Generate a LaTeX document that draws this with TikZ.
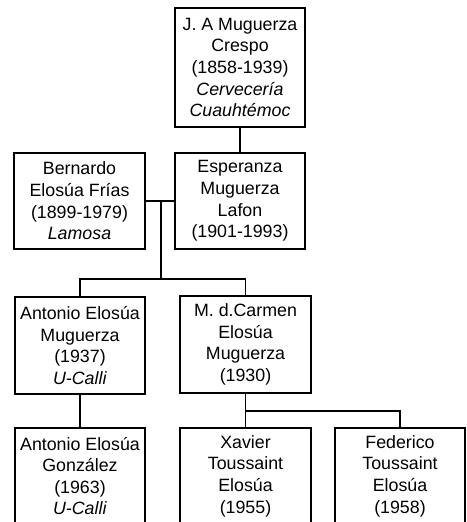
\documentclass[tikz,border=0pt]{standalone}
\usepackage{fontspec}
\setmainfont{Liberation Sans}
\begin{document}
\begin{tikzpicture}[x=1pt,y=-1pt,
  person/.style={draw=black, line width=1.6pt, fill=white, inner sep=0pt,
    align=center, font=\fontsize{17.8}{21.6}\selectfont},
  link/.style={line width=1.6pt}]
\useasboundingbox (0,0) rectangle (466,522);
\node[person, minimum width=130pt, minimum height=119pt] (top) at (240,67.5)
  {J. A Muguerza\\Crespo\\(1858-1939)\\\textit{Cervecería}\\\textit{Cuauhtémoc}};
\node[person, minimum width=131pt, minimum height=96pt] (bern) at (79.5,201)
  {Bernardo\\Elosúa Frías\\(1899-1979)\\\textit{Lamosa}};
\node[person, minimum width=130pt, minimum height=96pt] (esp) at (240,201)
  {Esperanza\\Muguerza\\Lafon\\(1901-1993)};
\node[person, minimum width=130pt, minimum height=97pt] (ant) at (80,345.5)
  {Antonio Elosúa\\Muguerza\\(1937)\\\textit{U-Calli}};
\node[person, minimum width=131pt, minimum height=97pt] (carm) at (245.5,344.5)
  {M. d.Carmen\\Elosúa\\Muguerza\\(1930)};
\node[person, minimum width=130pt, minimum height=96pt] (antg) at (80,476)
  {Antonio Elosúa\\González\\(1963)\\\textit{U-Calli}};
\node[person, minimum width=131pt, minimum height=96pt] (xav) at (245.5,476)
  {Xavier\\Toussaint\\Elosúa\\(1955)};
\node[person, minimum width=130pt, minimum height=96pt] (fed) at (400,476)
  {Federico\\Toussaint\\Elosúa\\(1958)};
\coordinate (m1) at (161,201);
\coordinate (j1) at (161,279);
\coordinate (j2) at (245.5,411);
\draw[link] (top.south) -- (esp.north);
\draw[link] (bern.east) -- (esp.west);
\draw[link] (m1) -- (j1) -| (ant.north);
\draw[link] (j1) -| (carm.north);
\draw[link] (ant.south) -- (antg.north);
\draw[link] (carm.south) -- (j2) -- (xav.north);
\draw[link] (j2) -| (fed.north);
\end{tikzpicture}
\end{document}
